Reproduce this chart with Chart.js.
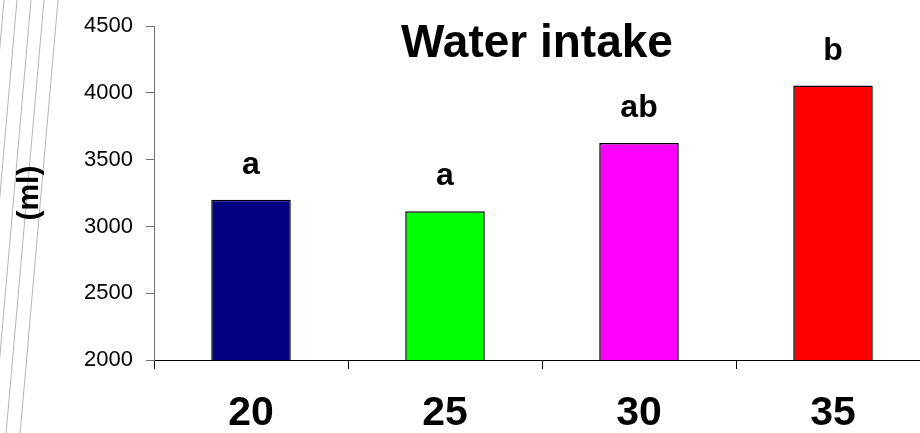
<!DOCTYPE html>
<html>
<head>
<meta charset="utf-8">
<script src="https://cdn.jsdelivr.net/npm/chart.js@4/dist/chart.umd.min.js"></script>
<style>
  html, body { margin: 0; padding: 0; background: #fff; overflow: hidden; }
  #wrap { width: 920px; height: 433px; overflow: hidden; }
  canvas { display: block; }
</style>
</head>
<body>
<div id="wrap"><canvas id="c" width="930" height="433"></canvas></div>
<script>
const categories = ['20', '25', '30', '35'];
const intake = [3200, 3115, 3625, 4055];
const letters = ['a', 'a', 'ab', 'b'];
const barColors = ['#000080', '#00FF00', '#FF00FF', '#FF0000'];
const yTicks = [2000, 2500, 3000, 3500, 4000, 4500];
const chartTitle = 'Water intake';
const yTitle = '(ml)';

const FONT = '"Liberation Sans", Arial, sans-serif';

const decoPlugin = {
  id: 'deco',
  beforeDraw(chart) {
    const ctx = chart.ctx;
    ctx.save();
    ctx.strokeStyle = '#b4b4b4';
    ctx.lineWidth = 1;
    [4, 17, 31, 44, 58].forEach(x0 => {
      ctx.beginPath();
      ctx.moveTo(x0, 0);
      ctx.lineTo(x0 - 0.0875 * chart.height, chart.height);
      ctx.stroke();
    });
    ctx.restore();
  },
  afterDraw(chart) {
    const ctx = chart.ctx;
    ctx.save();
    ctx.fillStyle = '#000';
    ctx.textAlign = 'center';
    ctx.textBaseline = 'alphabetic';
    ctx.font = 'bold 46px ' + FONT;
    ctx.fillText(chartTitle, 537, 57);
    ctx.font = 'bold 32px ' + FONT;
    const meta = chart.getDatasetMeta(0);
    meta.data.forEach((bar, i) => {
      ctx.fillText(letters[i], bar.x, bar.y - 26);
    });
    ctx.restore();
  }
};

new Chart(document.getElementById('c'), {
  type: 'bar',
  data: {
    labels: categories,
    datasets: [{
      data: intake,
      backgroundColor: barColors,
      borderColor: '#000',
      borderWidth: 1.5,
      borderSkipped: 'start',
      categoryPercentage: 1,
      barPercentage: 0.41
    }]
  },
  options: {
    responsive: false,
    animation: false,
    layout: { padding: { top: 25, right: 0, left: 0, bottom: 0 } },
    plugins: {
      legend: { display: false },
      title: { display: false },
      tooltip: { enabled: false }
    },
    scales: {
      x: {
        afterFit(scale) { scale.height = 73; },
        grid: {
          display: true,
          offset: true,
          drawOnChartArea: false,
          drawTicks: true,
          tickLength: 9,
          color: '#000',
          tickWidth: 1
        },
        border: { display: true, color: '#000', width: 1 },
        ticks: {
          color: '#000',
          font: { family: FONT, size: 41, weight: 'bold' },
          padding: 20
        }
      },
      y: {
        min: 2000,
        max: 4500,
        afterFit(scale) { scale.width = 154; },
        afterBuildTicks(scale) { scale.ticks = yTicks.map(v => ({ value: v })); },
        grid: {
          drawOnChartArea: false,
          drawTicks: true,
          tickLength: 8,
          color: '#707070'
        },
        border: { display: true, color: '#707070', width: 1 },
        ticks: {
          color: '#000',
          font: { family: FONT, size: 22 },
          padding: 13,
          callback: (v) => String(v)
        },
        title: {
          display: true,
          text: yTitle,
          color: '#000',
          font: { family: FONT, size: 30, weight: 'bold' },
          padding: { top: 12, bottom: 0 }
        }
      }
    }
  },
  plugins: [decoPlugin]
});
</script>
</body>
</html>
